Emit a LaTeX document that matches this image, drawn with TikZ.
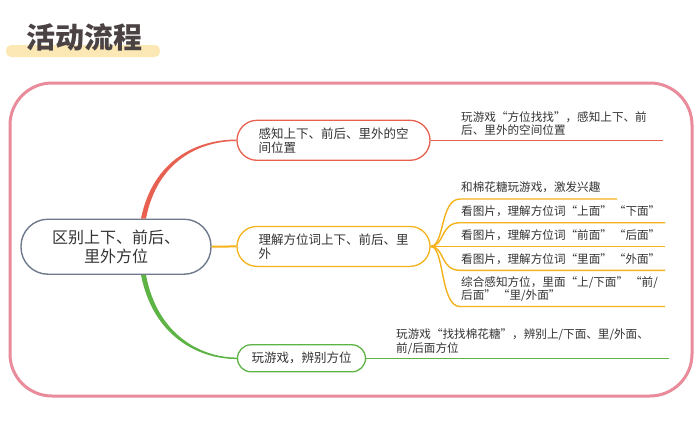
\documentclass[tikz,border=0pt]{standalone}
\usepackage{fontspec}
\newfontfamily\cjk{Noto Sans CJK SC}
\definecolor{cpink}{HTML}{E98B9A}
\definecolor{cred}{HTML}{E8604F}
\definecolor{corange}{HTML}{F5B21B}
\definecolor{cgreen}{HTML}{5DB343}
\definecolor{cgray}{HTML}{6E7A8C}
\definecolor{ctext}{HTML}{333333}
\definecolor{ctitle}{HTML}{4B4343}
\definecolor{cbar}{HTML}{FBE8B4}
\tikzset{
  titlenode/.style={font=\cjk\bfseries\fontsize{29}{32}\selectfont, text=ctitle, inner sep=0pt},
  cnode/.style={draw=cgray, line width=1.4pt, rounded corners=27pt, minimum width=190pt, minimum height=55pt,
    align=center, inner sep=0pt, text=ctext, font=\cjk\fontsize{16}{18.5}\selectfont},
  bnode/.style={line width=1.3pt, rounded corners=20pt, minimum width=193pt, minimum height=40pt,
    align=left, inner sep=0pt, text=ctext, font=\cjk\fontsize{12.5}{14}\selectfont},
  snode/.style={line width=1.3pt, rounded corners=13.5pt, minimum width=128pt, minimum height=27pt,
    align=left, inner sep=0pt, text=ctext, font=\cjk\fontsize{12.5}{14}\selectfont},
  lbl/.style={anchor=west, align=left, inner sep=0pt, text=ctext, font=\cjk\fontsize{11.6}{13.4}\selectfont},
  redline/.style={draw=cred, line width=1.3pt},
  orline/.style={draw=corange, line width=1.4pt},
  grline/.style={draw=cgreen, line width=1.3pt},
}
\begin{document}
\begin{tikzpicture}[x=1pt,y=-1pt]
\useasboundingbox (0,0) rectangle (700,423);
\fill[white] (0,0) rectangle (700,423);

% title
\fill[cbar, rounded corners=5pt] (6,45) rectangle (160,57);
\node[titlenode] (title) at (84,37) {活动流程};

% frame
\draw[cpink, line width=3pt, rounded corners=42pt] (10,83) rectangle (692,396);

% nodes
\node[cnode] (c) at (116,246.7) {区别上下、前后、\\里外方位};
\node[bnode, draw=cred] (b1) at (333.5,140.3) {感知上下、前后、里外的空\\间位置};
\node[bnode, draw=corange] (b2) at (333.5,246.4) {理解方位词上下、前后、里\\外};
\node[snode, draw=cgreen] (b3) at (301.5,358.3) {玩游戏，辨别方位};

% main connectors (tapered)
\fill[cred] ([xshift=25pt]c.north) .. controls +(12,-59) and +(-39,0) .. ([yshift=0.75pt]b1.west)
  -- ([yshift=-0.75pt]b1.west) .. controls +(-37,0) and +(11,-57) .. ([xshift=30pt]c.north) -- cycle;
\fill[cgreen] ([xshift=25pt]c.south) .. controls +(12,61) and +(-39,0) .. ([yshift=-0.75pt]b3.west)
  -- ([yshift=0.75pt]b3.west) .. controls +(-37,0) and +(11,59) .. ([xshift=30pt]c.south) -- cycle;
\draw[corange, line width=2pt] (c.east) -- (b2.west);

% branch 1
\coordinate (e1) at (663,140.3);
\draw[redline] (b1.east) -- (e1);
\node[lbl] (t1) at (461,123.4) {玩游戏“方位找找”，感知上下、前\\后、里外的空间位置};

% branch 2 sub-branches
\coordinate (s1) at (460,199);   \coordinate (f1) at (617,199);
\coordinate (s2) at (460,222.7); \coordinate (f2) at (665,222.7);
\coordinate (s3) at (460,246.4); \coordinate (f3) at (665,246.4);
\coordinate (s4) at (460,270.3); \coordinate (f4) at (665,270.3);
\coordinate (s5) at (460,306.5); \coordinate (f5) at (665,306.5);
\foreach \i in {1,2,4,5}{
  \draw[orline] (b2.east) .. controls +(14,0) and +(-20,0) .. (s\i) -- (f\i);
}
\draw[orline] (b2.east) -- (f3);
\node[lbl] (u1) at (461,187.3) {和棉花糖玩游戏，激发兴趣};
\node[lbl] (u2) at (461,211.5) {看图片，理解方位词“上面”\,“下面”};
\node[lbl] (u3) at (461,235.5) {看图片，理解方位词“前面”\,“后面”};
\node[lbl] (u4) at (461,259.3) {看图片，理解方位词“里面”\,“外面”};
\node[lbl] (u5) at (461,289.4) {综合感知方位，里面“上/下面”\,“前/\\后面”\,“里/外面”};

% branch 3
\coordinate (e3) at (669,358.3);
\draw[grline] (b3.east) -- (e3);
\node[lbl] (v1) at (396,341.5) {玩游戏“找找棉花糖”，辨别上/下面、里/外面、\\前/后面方位};
\end{tikzpicture}
\end{document}
